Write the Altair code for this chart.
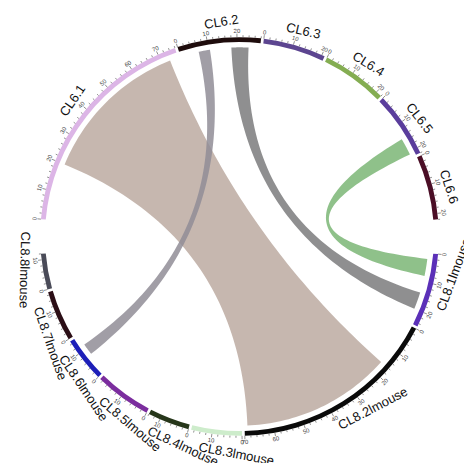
import math
import altair as alt
import pandas as pd

# ---------------- data ----------------
sectors = ["CL6.1", "CL6.2", "CL6.3", "CL6.4", "CL6.5", "CL6.6",
           "CL8.1lmouse", "CL8.2lmouse", "CL8.3lmouse", "CL8.4lmouse",
           "CL8.5lmouse", "CL8.6lmouse", "CL8.7lmouse", "CL8.8lmouse"]
lengths = [76, 28, 21, 22, 22, 22, 25, 70, 17, 14, 19, 15, 17, 12]
sector_colors = ["#dcb5e6", "#1e0c0c", "#5c4590", "#84ad52", "#5a3d9c", "#4b0e26",
                 "#5b30b8", "#0a0a0a", "#cdeccb", "#26361a", "#7b2d9e", "#1d1fb8",
                 "#2b0e16", "#4a4b58"]

chord_src = ["CL6.1", "CL6.2", "CL6.2", "CL6.5"]
chord_src_from = [20, 6.5, 18, 15]
chord_src_to = [73, 10.5, 24, 21]
chord_dst = ["CL8.2lmouse", "CL8.6lmouse", "CL8.1lmouse", "CL8.1lmouse"]
chord_dst_from = [16, 7.5, 14, 2]
chord_dst_to = [69, 11.5, 20, 8]
chord_colors = ["#bcaaa1", "#918d96", "#7b7b7c", "#7bb676"]

# ---------------- layout ----------------
W, H = 456, 455
CX, CY = 231.5, 228.5          # circle centre in plot pixels
S = 0.97                       # overall size factor
R_IN, R_OUT = 200.5 * S, 205.5 * S
R_CHORD = 195 * S
R_TICKLAB = 212 * S
R_LABEL = 221 * S
START = 275.0
SMALL_GAP, BIG_GAP = 0.8, 10.0
group6 = 6
total_deg = 360 - SMALL_GAP * (len(sectors) - 2) - 2 * BIG_GAP
K = total_deg / sum(lengths)   # degrees per unit
TOP_OFF, BOT_OFF = -3.5, 4.3   # label anchor offset from sector middle (deg)
special_off = {"CL8.8lmouse": 11.5}

starts = {}
a = START
for i, (s, L) in enumerate(zip(sectors, lengths)):
    starts[s] = a
    a += L * K
    a += BIG_GAP if i in (group6 - 1, len(sectors) - 1) else SMALL_GAP


def pos(s, u):
    return starts[s] + u * K


def xy(adeg, r):
    t = math.radians(adeg)
    return r * math.sin(t), r * math.cos(t)


def is_bottom(adeg):
    m = adeg % 360
    return 90 < m < 270


def rot(adeg, bottom):
    return ((adeg - 180) if bottom else adeg) % 360


# sector bands
band = pd.DataFrame({
    "sector": sectors,
    "t0": [math.radians(starts[s]) for s in sectors],
    "t1": [math.radians(starts[s] + L * K) for s, L in zip(sectors, lengths)],
    "color": sector_colors,
})

# ticks
tick_rows, tlab_rows = [], []
for s, L in zip(sectors, lengths):
    u = 0
    while u <= L + 1e-9:
        major = (u % 10 == 0)
        ad = pos(s, u)
        x0, y0 = xy(ad, R_OUT)
        x1, y1 = xy(ad, R_OUT + (3.5 if major else 2))
        tick_rows.append({"x": x0, "y": y0, "x2": x1, "y2": y1})
        if major:
            lx, ly = xy(ad, R_TICKLAB)
            tlab_rows.append({"x": lx, "y": ly, "text": str(u), "rot": rot(ad, is_bottom(ad))})
        u += 2
ticks = pd.DataFrame(tick_rows)
tlabs = pd.DataFrame(tlab_rows)

# sector labels (anchored near the middle, rotated, left-aligned)
lab_rows = []
for s, L in zip(sectors, lengths):
    mid = (starts[s] + L * K / 2) % 360
    bottom = is_bottom(mid)
    ad = mid + special_off.get(s, BOT_OFF if bottom else TOP_OFF)
    lx, ly = xy(ad, R_LABEL)
    lab_rows.append({"x": lx, "y": ly, "text": s, "rot": rot(ad, bottom)})
labs = pd.DataFrame(lab_rows)

# chords (ribbons with quadratic curves through the centre)
poly_rows = []
for ci in range(len(chord_src)):
    sa0 = pos(chord_src[ci], chord_src_from[ci])
    sa1 = pos(chord_src[ci], chord_src_to[ci])
    ta0 = pos(chord_dst[ci], chord_dst_from[ci])
    ta1 = pos(chord_dst[ci], chord_dst_to[ci])
    pts = []
    n = 40
    for j in range(n + 1):
        pts.append(xy(sa0 + (sa1 - sa0) * j / n, R_CHORD))
    p0, p2 = xy(sa1, R_CHORD), xy(ta0, R_CHORD)
    for j in range(1, 60):
        t = j / 60
        pts.append(((1 - t) ** 2 * p0[0] + t ** 2 * p2[0], (1 - t) ** 2 * p0[1] + t ** 2 * p2[1]))
    for j in range(n + 1):
        pts.append(xy(ta0 + (ta1 - ta0) * j / n, R_CHORD))
    p0, p2 = xy(ta1, R_CHORD), xy(sa0, R_CHORD)
    for j in range(1, 60):
        t = j / 60
        pts.append(((1 - t) ** 2 * p0[0] + t ** 2 * p2[0], (1 - t) ** 2 * p0[1] + t ** 2 * p2[1]))
    for k, (px, py) in enumerate(pts):
        poly_rows.append({"chord": ci, "order": k, "x": px, "y": py, "color": chord_colors[ci]})
polys = pd.DataFrame(poly_rows)

xs = alt.Scale(domain=[-CX, W - CX], nice=False, zero=False)
ys = alt.Scale(domain=[-(H - CY), CY], nice=False, zero=False)
noax = None

chords = alt.Chart(polys).mark_line(strokeOpacity=0, fillOpacity=0.85, interpolate="linear").encode(
    x=alt.X("x:Q", scale=xs, axis=noax),
    y=alt.Y("y:Q", scale=ys, axis=noax),
    detail="chord:N",
    order="order:Q",
    fill=alt.Fill("color:N", scale=None),
)

bands = alt.Chart(band).mark_arc(radius=R_OUT, radius2=R_IN).encode(
    theta=alt.Theta("t0:Q", scale=None),
    theta2="t1:Q",
    color=alt.Color("color:N", scale=None),
    x=alt.value(CX),
    y=alt.value(CY),
)

tick_layer = alt.Chart(ticks).mark_rule(color="#444444", strokeWidth=0.6).encode(
    x=alt.X("x:Q", scale=xs, axis=noax),
    y=alt.Y("y:Q", scale=ys, axis=noax),
    x2="x2:Q",
    y2="y2:Q",
)

tick_text = alt.Chart(tlabs).mark_text(fontSize=6, font="Liberation Sans", color="#444444",
                                       align="center", baseline="middle").encode(
    x=alt.X("x:Q", scale=xs, axis=noax),
    y=alt.Y("y:Q", scale=ys, axis=noax),
    text="text:N",
    angle=alt.Angle("rot:Q", scale=None),
)

label_text = alt.Chart(labs).mark_text(fontSize=13, font="Liberation Sans", color="#111111",
                                       align="left", baseline="middle").encode(
    x=alt.X("x:Q", scale=xs, axis=noax),
    y=alt.Y("y:Q", scale=ys, axis=noax),
    text="text:N",
    angle=alt.Angle("rot:Q", scale=None),
)

chart = alt.layer(chords, bands, tick_layer, tick_text, label_text).properties(
    width=W, height=H, padding=0,
    autosize=alt.AutoSizeParams(type="none"),
).configure_view(stroke=None)

chart.save("out.html", embed_options={"renderer": "svg", "actions": False})
